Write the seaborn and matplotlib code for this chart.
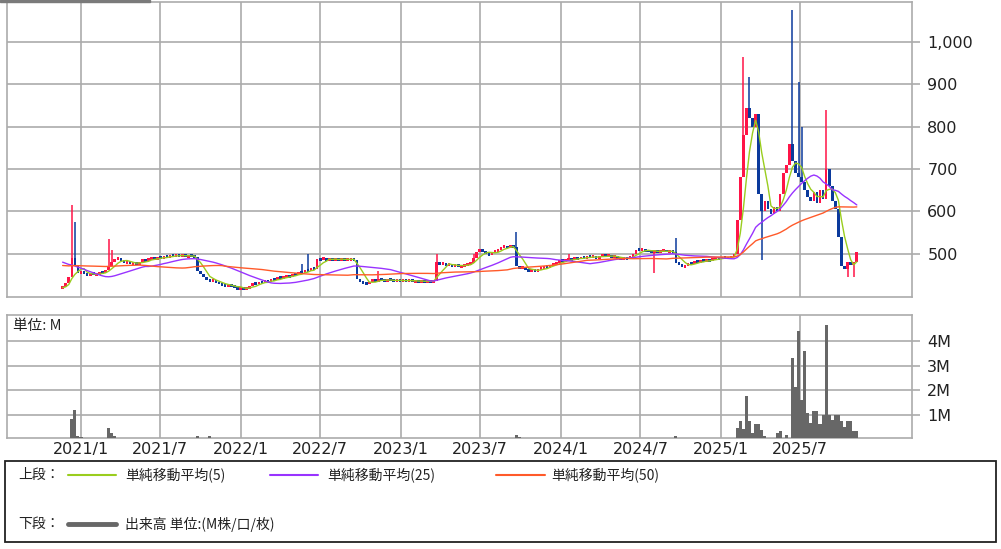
import numpy as np
import pandas as pd
import matplotlib
matplotlib.use('Agg')
import matplotlib.pyplot as plt
import matplotlib.dates as mdates
from matplotlib.patches import Rectangle
from matplotlib.lines import Line2D
import seaborn as sns

sns.set_style('white')
plt.rcParams['font.family'] = ['DejaVu Sans', 'Noto Sans CJK JP']
cjk = ['Noto Sans CJK JP', 'DejaVu Sans']

# weekly closes, first week 2020-11-20
close = [
    422, 430, 445, 490, 470, 455, 458, 452, 448, 455,
    450, 452, 456, 455, 462, 470, 480, 486, 490, 484,
    478, 482, 476, 480, 474, 480, 486, 483, 488, 490,
    487, 492, 490, 494, 492, 496, 495, 498, 494, 497,
    493, 496, 494, 492, 460, 452, 445, 440, 436, 438,
    432, 430, 426, 422, 428, 424, 420, 418, 420, 416,
    418, 424, 430, 428, 434, 432, 436, 434, 440, 438,
    444, 442, 446, 448, 445, 452, 450, 458, 454, 462,
    460, 466, 464, 488, 486, 490, 484, 488, 486, 489,
    486, 488, 485, 487, 488, 486, 440, 434, 430, 428,
    434, 438, 436, 440, 438, 436, 440, 437, 435, 438,
    436, 438, 436, 437, 435, 436, 434, 436, 435, 436,
    434, 436, 480, 476, 478, 472, 476, 470, 474, 470,
    472, 474, 476, 478, 490, 505, 510, 504, 500, 498,
    503, 506, 510, 516, 518, 514, 520, 516, 470, 466,
    468, 462, 460, 462, 458, 463, 466, 470, 468, 474,
    476, 480, 484, 482, 486, 488, 486, 490, 488, 492,
    490, 494, 492, 494, 490, 494, 496, 494, 496, 492,
    494, 490, 486, 490, 488, 494, 500, 510, 508, 510,
    507, 506, 505, 507, 504, 506, 508, 505, 506, 504,
    478, 474, 470, 472, 478, 476, 482, 480, 484, 482,
    486, 484, 488, 490, 488, 492, 490, 490, 492, 500,
    580, 680, 780, 845, 820, 800, 830, 640, 600, 625,
    605, 595, 610, 600, 640, 690, 710, 760, 720, 690,
    680, 670, 650, 635, 625, 645, 620, 650, 630, 700,
    660, 625, 605, 540, 470, 465, 480, 475, 480, 505,
]
first_open = 418

# closes before the visible window (only feed the moving averages)
hist_close = [
    460, 462, 458, 465, 470, 468, 462, 460, 458, 463, 466, 470, 468,
    465, 462, 460, 464, 466, 468, 465, 462, 466, 468, 470, 464,
    500, 510, 520, 530, 525, 520, 515, 525, 520, 515, 520, 515, 510, 505,
    480, 460, 445, 435, 430, 425, 420, 418, 420, 420,
]

# wick extremes that stand out
high_idx = [3, 4, 15, 16, 78, 80, 103, 122, 134, 148, 165, 200, 222, 224, 238, 240, 241, 249]
high_val = [615, 575, 535, 510, 475, 500, 460, 500, 500, 552, 500, 538, 965, 918, 1076, 906, 800, 840]
low_idx = [193, 228, 256, 258]
low_val = [455, 486, 446, 445]

# weekly volume (M), weeks not listed are ~0
vol_idx = [2, 3, 4, 5, 6, 15, 16, 17, 18, 44, 48, 81, 96, 123, 138, 144, 145, 148, 149, 193, 200,
           219, 220, 221, 222, 223, 224, 225, 226, 227, 228, 229, 233, 234, 236,
           238, 239, 240, 241, 242, 243, 244, 245, 246, 247, 248, 249,
           250, 251, 252, 253, 254, 255, 256, 257, 258, 259]
vol_val = [0.05, 0.83, 1.2, 0.16, 0.12, 0.48, 0.3, 0.18, 0.1, 0.15, 0.15, 0.07, 0.07, 0.07, 0.07, 0.06, 0.06, 0.2, 0.12, 0.06, 0.18,
           0.05, 0.48, 0.78, 0.44, 1.78, 0.78, 0.28, 0.64, 0.64, 0.4, 0.15, 0.28, 0.35, 0.2,
           3.33, 2.13, 4.39, 1.6, 3.59, 1.08, 0.67, 1.18, 1.18, 0.64, 1.0, 4.66,
           1.0, 0.8, 1.0, 1.0, 0.75, 0.53, 0.78, 0.78, 0.37, 0.37]

price_ticks = [500, 600, 700, 800, 900, 1000]
vol_ticks = [1, 2, 3, 4]
month_ticks = ['2021-01-01', '2021-07-01', '2022-01-01', '2022-07-01', '2023-01-01',
               '2023-07-01', '2024-01-01', '2024-07-01', '2025-01-01', '2025-07-01']
month_labels = ['2021/1', '2021/7', '2022/1', '2022/7', '2023/1',
                '2023/7', '2024/1', '2024/7', '2025/1', '2025/7']

up_col = '#ff1447'
down_col = '#0b3a9c'
ma_cols = {5: '#9acd1e', 25: '#9933ff', 50: '#ff5a2a'}
grid_col = '#ababab'

# --- build frame
dates = pd.date_range('2020-11-20', periods=len(close), freq='7D')
x = mdates.date2num(dates)
df = pd.DataFrame({'x': x, 'close': close})
df['open'] = [first_open] + close[:-1]
df['high'] = df[['open', 'close']].max(axis=1)
df['low'] = df[['open', 'close']].min(axis=1)
df.loc[high_idx, 'high'] = high_val
df.loc[low_idx, 'low'] = low_val
df['vol'] = 0.0
df.loc[vol_idx, 'vol'] = vol_val

full = pd.Series(hist_close + close, dtype=float)
for n in ma_cols:
    df[f'ma{n}'] = full.rolling(n).mean().iloc[len(hist_close):].values

fig = plt.figure(figsize=(10.01, 5.49), dpi=100)
ax = fig.add_axes([7/1001, 1-297/549, 905/1001, 295/549])
axv = fig.add_axes([7/1001, 1-438/549, 905/1001, 123/549])

xt = mdates.date2num(pd.to_datetime(month_ticks))
xlim = mdates.date2num(pd.to_datetime(['2020-07-16', '2026-03-13']))

# --- candles (min body height so flat weeks stay visible)
up = df['close'] >= df['open']
cols = np.where(up, up_col, down_col)
ax.vlines(df['x'], df['low'], df['high'], colors=cols, lw=1.1, zorder=3)
lo = df[['open', 'close']].min(axis=1)
body_h = (df['close'] - df['open']).abs()
small = body_h < 7
lo = lo.where(~small, (df['open'] + df['close']) / 2 - 3.5)
body_h = body_h.clip(lower=7)
ax.bar(df['x'], body_h, bottom=lo, width=6,
       color=cols, linewidth=0, zorder=3)

for n, c in ma_cols.items():
    sns.lineplot(x=df['x'], y=df[f'ma{n}'], ax=ax, color=c, lw=1.0, zorder=4)

# --- volume
axv.bar(df['x'], df['vol'], width=7, color='#676767', linewidth=0, zorder=3)

for a in (ax, axv):
    a.set_xlim(*xlim)
    a.set_xticks(xt)
    a.grid(True, color=grid_col, lw=1.2)
    a.set_axisbelow(True)
    a.yaxis.tick_right()
    a.tick_params(axis='y', length=6, width=1.2, color=grid_col, pad=5,
                  labelsize=11.5, labelcolor='#222222')
    a.tick_params(axis='x', length=0)
    a.set_xlabel('')
    a.set_ylabel('')
    for s in a.spines.values():
        s.set_color(grid_col)
        s.set_linewidth(1.2)

ax.set_ylim(398, 1094)
ax.set_yticks(price_ticks)
ax.set_yticklabels([f'{v:,}' for v in price_ticks])
ax.set_xticklabels([])

axv.set_ylim(0.08, 5.05)
axv.set_yticks(vol_ticks)
axv.set_yticklabels([f'{v}M' for v in vol_ticks])
axv.set_xticklabels(month_labels, fontsize=11.5, color='#222222')
axv.tick_params(axis='x', pad=3)
axv.text(6/905, 0.91, '単位: M', transform=axv.transAxes, fontsize=10.5,
         family=cjk, va='center', ha='left', color='#222222')

# --- legend box
fig.add_artist(Rectangle((5/1001, 1-542/549), 991/1001, 81/549, fill=False,
                         ec='#222222', lw=1.3, transform=fig.transFigure))
fig.add_artist(Rectangle((0, 1-2/549), 150/1001, 2/549, color='#7a7a7a',
                         transform=fig.transFigure))

def fy(py):
    return 1 - py/549

y1, y2 = fy(475), fy(524)
fig.text(18/1001, y1, '上段：', fontsize=10, family=cjk, va='center', color='#222222')
fig.text(18/1001, y2, '下段：', fontsize=10, family=cjk, va='center', color='#222222')
leg = [(68, 116, 125, ma_cols[5], '単純移動平均(5)'),
       (270, 318, 327, ma_cols[25], '単純移動平均(25)'),
       (496, 545, 551, ma_cols[50], '単純移動平均(50)')]
for x0, x1, tx, c, lab in leg:
    fig.add_artist(Line2D([x0/1001, x1/1001], [y1, y1], color=c, lw=1.5,
                          transform=fig.transFigure))
    fig.text(tx/1001, y1, lab, fontsize=10, family=cjk, va='center', color='#222222')
fig.add_artist(Line2D([68/1001, 116/1001], [y2, y2], color='#676767', lw=3.5,
                      transform=fig.transFigure))
fig.text(125/1001, y2, '出来高 単位:(M株/口/枚)', fontsize=10, family=cjk,
         va='center', color='#222222')

fig.savefig('out.png', dpi=100)
